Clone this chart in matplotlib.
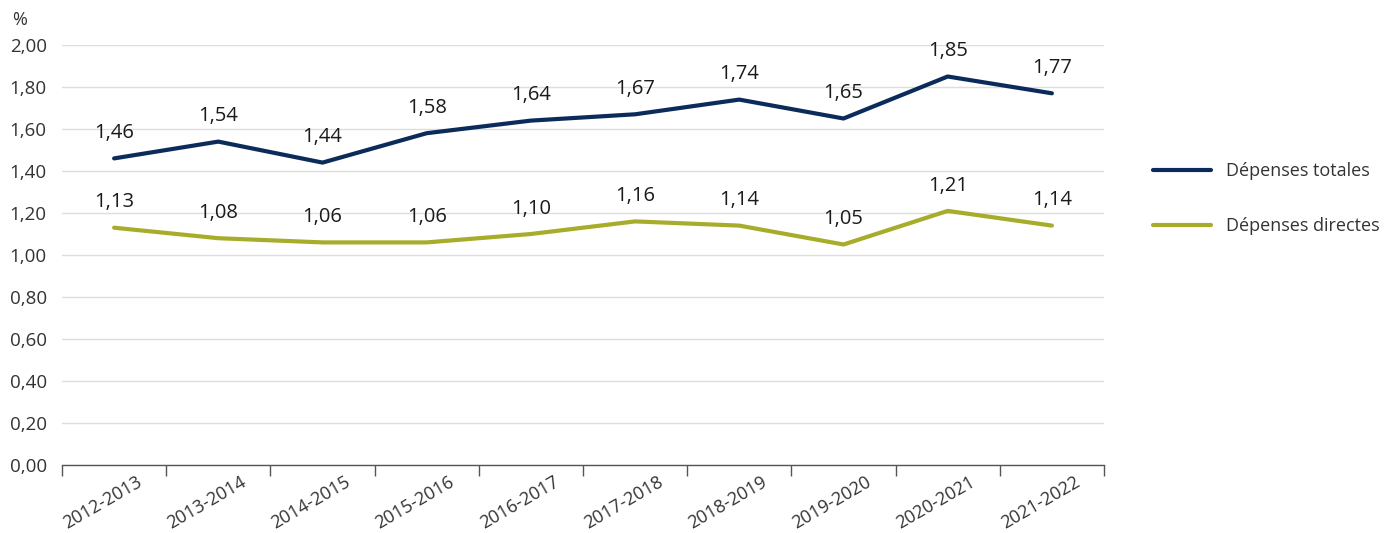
import matplotlib
matplotlib.use("Agg")
import matplotlib.pyplot as plt
import matplotlib.transforms as mtransforms
from matplotlib.ticker import FuncFormatter, FixedLocator

plt.rcParams['font.family'] = ['Open Sans', 'DejaVu Sans']

annees = ["2012-2013", "2013-2014", "2014-2015", "2015-2016", "2016-2017",
          "2017-2018", "2018-2019", "2019-2020", "2020-2021", "2021-2022"]
depenses_totales = [1.46, 1.54, 1.44, 1.58, 1.64, 1.67, 1.74, 1.65, 1.85, 1.77]
depenses_directes = [1.13, 1.08, 1.06, 1.06, 1.10, 1.16, 1.14, 1.05, 1.21, 1.14]

couleur_totales = "#0b2c5a"
couleur_directes = "#a7ad2b"
gris_texte = "#333333"

fig = plt.figure(figsize=(13.85, 5.33), dpi=100)
ax = fig.add_axes([62 / 1385, 68 / 533, (1104 - 62) / 1385, 420 / 533])

x = list(range(len(annees)))
ax.plot(x, depenses_totales, color=couleur_totales, lw=3, label="Dépenses totales",
        solid_capstyle="round")
ax.plot(x, depenses_directes, color=couleur_directes, lw=3, label="Dépenses directes",
        solid_capstyle="round")

def fmt(v):
    return "{:.2f}".format(v).replace(".", ",")

for serie in (depenses_totales, depenses_directes):
    for i, v in enumerate(serie):
        ax.annotate(fmt(v), (i, v), xytext=(0, 11), textcoords="offset points",
                    ha="center", va="bottom", fontsize=14.5, color="#1a1a1a")

ax.set_xlim(-0.5, len(annees) - 0.5)
ax.set_ylim(0, 2.0)
ax.set_yticks([i * 0.2 for i in range(11)])
ax.yaxis.set_major_formatter(FuncFormatter(lambda v, p: fmt(v)))
ax.tick_params(axis="y", length=0, labelsize=13.5, pad=11, labelcolor=gris_texte)

ax.set_xticks(x)
ax.set_xticklabels(annees, rotation=30, ha="right", rotation_mode="anchor")
ax.tick_params(axis="x", which="major", length=0, labelsize=13, pad=6,
               labelcolor=gris_texte)
decalage = mtransforms.ScaledTranslation(22 / 100, 0, fig.dpi_scale_trans)
for lab in ax.get_xticklabels():
    lab.set_transform(lab.get_transform() + decalage)
ax.xaxis.set_minor_locator(FixedLocator([i - 0.5 for i in range(len(annees) + 1)]))
ax.tick_params(axis="x", which="minor", length=8, width=1, color="#555555",
               direction="out")

ax.grid(axis="y", color="#dddddd", lw=1)
ax.set_axisbelow(True)
for s in ["top", "right", "left"]:
    ax.spines[s].set_visible(False)
ax.spines["bottom"].set_color("#555555")
ax.spines["bottom"].set_linewidth(1)

fig.text(12 / 1385, 1 - 20 / 533, "%", fontsize=13, color=gris_texte,
         ha="left", va="center")

fig.legend(loc="upper left", bbox_to_anchor=(1137 / 1385, 1 - 146 / 533),
           frameon=False, fontsize=13, handlelength=3.2, handletextpad=0.85,
           labelspacing=2.05, labelcolor=gris_texte)

fig.savefig("out.png", dpi=100)
